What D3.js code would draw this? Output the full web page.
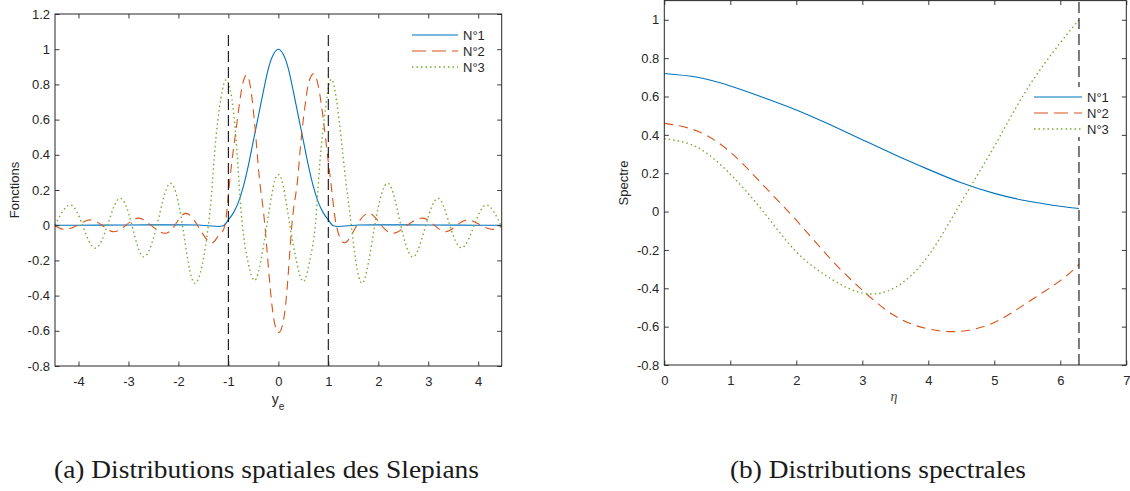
<!DOCTYPE html>
<html><head><meta charset="utf-8">
<script src="https://cdn.jsdelivr.net/npm/d3@7"></script>
<style>body{margin:0;background:#fff} svg{display:block}</style>
</head><body>
<svg id="c" width="1130" height="491"></svg>
<script>
// ---------- Data ----------
const seriesNames = ["N°1", "N°2", "N°3"];
const seriesColors = ["#0072BD", "#D95319", "#77AC30"];

// (a) spatial distributions
const spatialX1 = [-4.47,-4,-3,-2,-1.6,-1.4,-1.2,-1.1,-1.0,-0.9,-0.8,-0.7,-0.6,-0.5,-0.4,-0.3,-0.2,-0.1,0,0.1,0.2,0.3,0.4,0.5,0.6,0.7,0.8,0.9,1.0,1.1,1.2,1.4,1.6,2,3,4,4.47];
const spatialY1 = [0,0,0.001,0.002,0.001,-0.003,-0.007,-0.003,0.03,0.07,0.13,0.22,0.34,0.48,0.62,0.76,0.89,0.97,1.0,0.97,0.89,0.76,0.62,0.48,0.34,0.22,0.13,0.07,0.03,-0.003,-0.007,-0.003,0.001,0.002,0.001,0,0];

const spatialX2 = [-4.47,-4.27,-4.02,-3.77,-3.53,-3.3,-3.05,-2.8,-2.55,-2.28,-2.07,-1.86,-1.62,-1.36,-1.2,-1.07,-0.97,-0.83,-0.73,-0.64,-0.55,-0.45,-0.37,-0.27,-0.13,0.01,0.15,0.27,0.37,0.45,0.53,0.6,0.7,0.8,0.9,1.0,1.08,1.16,1.33,1.57,1.82,2.06,2.3,2.58,2.88,3.12,3.35,3.57,3.8,4.05,4.3,4.47];
const spatialY2 = [-0.005,-0.024,0,0.03,0,-0.037,0,0.04,0,-0.046,0,0.067,0,-0.1,-0.06,0,0.26,0.58,0.78,0.853,0.77,0.5,0.24,0,-0.45,-0.61,-0.44,0,0.22,0.47,0.67,0.8,0.86,0.79,0.6,0.36,0.17,0,-0.1,0,0.067,0,-0.046,0,0.04,0,-0.037,0,0.03,0,-0.024,-0.005];

const spatialX3 = [-4.47,-4.17,-3.92,-3.67,-3.42,-3.17,-2.93,-2.7,-2.43,-2.17,-1.92,-1.67,-1.4,-1.27,-1.15,-1.03,-0.9,-0.8,-0.72,-0.6,-0.47,-0.35,-0.23,-0.1,0,0.1,0.23,0.36,0.5,0.63,0.74,0.83,0.95,1.08,1.23,1.35,1.46,1.67,1.93,2.2,2.45,2.7,2.95,3.2,3.43,3.67,3.92,4.17,4.47];
const spatialY3 = [0,0.115,0,-0.13,0,0.153,0,-0.18,0,0.238,0,-0.33,0,0.43,0.72,0.825,0.65,0.3,0,-0.22,-0.313,-0.2,0,0.22,0.288,0.22,0,-0.2,-0.32,-0.2,0,0.35,0.68,0.825,0.56,0.25,0,-0.33,0,0.238,0,-0.18,0,0.153,0,-0.128,0,0.115,-0.01];

const boundariesA = [-1, 1];
const xTicksA = [-4,-3,-2,-1,0,1,2,3,4];
const yTicksA = [-0.8,-0.6,-0.4,-0.2,0,0.2,0.4,0.6,0.8,1,1.2];

// (b) spectral distributions
const eta = [0,0.5,1,1.5,2,2.5,3,3.5,4,4.5,5,5.5,6,6.283];
const spectrum1 = [0.72,0.70,0.655,0.595,0.53,0.455,0.375,0.295,0.22,0.15,0.095,0.055,0.028,0.016];
const spectrum2 = [0.46,0.42,0.31,0.137,-0.045,-0.24,-0.41,-0.545,-0.612,-0.624,-0.578,-0.475,-0.36,-0.275];
const spectrum3 = [0.38,0.335,0.195,0.0,-0.21,-0.345,-0.425,-0.395,-0.23,0.05,0.34,0.64,0.88,1.0];
const boundaryB = [6.283];
const xTicksB = [0,1,2,3,4,5,6,7];
const yTicksB = [-0.8,-0.6,-0.4,-0.2,0,0.2,0.4,0.6,0.8,1];

const captions = ["(a) Distributions spatiales des Slepians", "(b) Distributions spectrales"];

// ---------- Drawing ----------
const svg = d3.select("#c");
const AX = "#262626";
const SANS = "'Liberation Sans', Arial, Helvetica, sans-serif";
const dashes = [null, "9,6", "1.5,3"];
const legendDashes = [null, "14,6", "1.5,3"];
const fmt = d => { const s = String(+d.toFixed(1)); return s === "-0" ? "0" : s; };

function panel(cfg) {
  const x = d3.scaleLinear().domain(cfg.xDomain).range([cfg.left, cfg.right]);
  const y = d3.scaleLinear().domain(cfg.yDomain).range([cfg.bottom, cfg.top]);
  const g = svg.append("g");

  // curves
  const line = d3.line().x(d => x(d[0])).y(d => y(d[1]));
  cfg.series.forEach((s, i) => {
    const pts = s.x.map((v, k) => [v, s.y[k]]);
    g.append("path").datum(pts)
      .attr("d", line.curve(s.curve)(pts))
      .attr("fill", "none")
      .attr("stroke", seriesColors[i])
      .attr("stroke-width", i === 2 ? 1.4 : 1.1)
      .attr("stroke-dasharray", dashes[i]);
  });

  // boundary lines
  cfg.bounds.forEach(b => {
    g.append("line")
      .attr("x1", x(b)).attr("x2", x(b))
      .attr("y1", y(cfg.yDomain[0])).attr("y2", y(1.1))
      .attr("stroke", "#111").attr("stroke-width", 1.1)
      .attr("stroke-dasharray", "11,5");
  });

  // axes (ticks inward, box)
  const tl = 4.5;
  const ax = (gen, tr, labels, pad) => {
    const a = g.append("g").attr("transform", tr)
      .call(gen.tickSizeInner(-tl).tickSizeOuter(0).tickPadding(pad).tickFormat(labels ? fmt : () => ""));
    a.select(".domain").remove();
    a.selectAll("line").attr("stroke", AX).attr("stroke-width", 0.9);
    a.selectAll("text").attr("fill", AX).style("font-family", SANS).style("font-size", "13px");
    return a;
  };
  ax(d3.axisBottom(x).tickValues(cfg.xTicks), `translate(0,${cfg.bottom})`, true, cfg.xPad);
  ax(d3.axisTop(x).tickValues(cfg.xTicks), `translate(0,${cfg.top})`, false, 0);
  ax(d3.axisLeft(y).tickValues(cfg.yTicks), `translate(${cfg.left},0)`, true, 5);
  ax(d3.axisRight(y).tickValues(cfg.yTicks), `translate(${cfg.right},0)`, false, 0);
  g.append("rect")
    .attr("x", cfg.left).attr("y", cfg.top)
    .attr("width", cfg.right - cfg.left).attr("height", cfg.bottom - cfg.top)
    .attr("fill", "none").attr("stroke", AX).attr("stroke-width", 1);

  // legend
  const L = cfg.legend;
  g.append("rect").attr("x", L.x - 4).attr("y", L.y - 10)
    .attr("width", 82).attr("height", 50).attr("fill", "#fff");
  seriesNames.forEach((n, i) => {
    const yy = L.y + i * L.dy;
    g.append("line").attr("x1", L.x).attr("x2", L.x + L.len)
      .attr("y1", yy).attr("y2", yy)
      .attr("stroke", seriesColors[i]).attr("stroke-width", i === 2 ? 1.4 : 1.1)
      .attr("stroke-dasharray", legendDashes[i]);
    g.append("text").attr("x", L.x + L.len + 5).attr("y", yy).attr("dy", "0.36em")
      .attr("fill", AX).style("font-family", SANS).style("font-size", "13px").text(n);
  });
  return {x, y, g};
}

const A = panel({
  xDomain: [-4.47, 4.47], yDomain: [-0.8, 1.2],
  left: 55, right: 501.7, top: 14, bottom: 366,
  xTicks: xTicksA, yTicks: yTicksA, xPad: 11,
  bounds: boundariesA,
  series: [
    {x: spatialX1, y: spatialY1, curve: d3.curveMonotoneX},
    {x: spatialX2, y: spatialY2, curve: d3.curveNatural},
    {x: spatialX3, y: spatialY3, curve: d3.curveNatural}
  ],
  legend: {x: 412, y: 35, dy: 16, len: 46}
});

const B = panel({
  xDomain: [0, 7], yDomain: [-0.8, 1.1],
  left: 664.3, right: 1126.3, top: 0.6, bottom: 365,
  xTicks: xTicksB, yTicks: yTicksB, xPad: 10.5,
  bounds: boundaryB,
  series: [
    {x: eta, y: spectrum1, curve: d3.curveNatural},
    {x: eta, y: spectrum2, curve: d3.curveNatural},
    {x: eta, y: spectrum3, curve: d3.curveNatural}
  ],
  legend: {x: 1034, y: 97, dy: 16, len: 48}
});

// axis titles
svg.append("text").attr("transform", "translate(19,190) rotate(-90)")
  .attr("text-anchor", "middle").attr("fill", AX)
  .style("font-family", SANS).style("font-size", "13px").text("Fonctions");
const ye = svg.append("text").attr("x", 278).attr("y", 404).attr("text-anchor", "middle")
  .attr("fill", AX).style("font-family", SANS).style("font-size", "14px");
ye.append("tspan").text("y");
ye.append("tspan").attr("dy", 6).style("font-size", "10px").text("e");

svg.append("text").attr("transform", "translate(628,183) rotate(-90)")
  .attr("text-anchor", "middle").attr("fill", AX)
  .style("font-family", SANS).style("font-size", "13px").text("Spectre");
svg.append("text").attr("x", 894).attr("y", 401).attr("text-anchor", "middle")
  .attr("fill", "#444").style("font-family", "'Liberation Serif', serif")
  .style("font-style", "italic").style("font-size", "14px").text("η");

// captions
const capX = [54, 730], capW = [425, 296];
captions.forEach((c, i) => {
  svg.append("text").attr("x", capX[i]).attr("y", 478)
    .attr("textLength", capW[i]).attr("lengthAdjust", "spacingAndGlyphs")
    .attr("fill", "#1a1a1a").style("font-family", "'Liberation Serif', serif")
    .style("font-size", "25px").text(c);
});
</script>
</body></html>
